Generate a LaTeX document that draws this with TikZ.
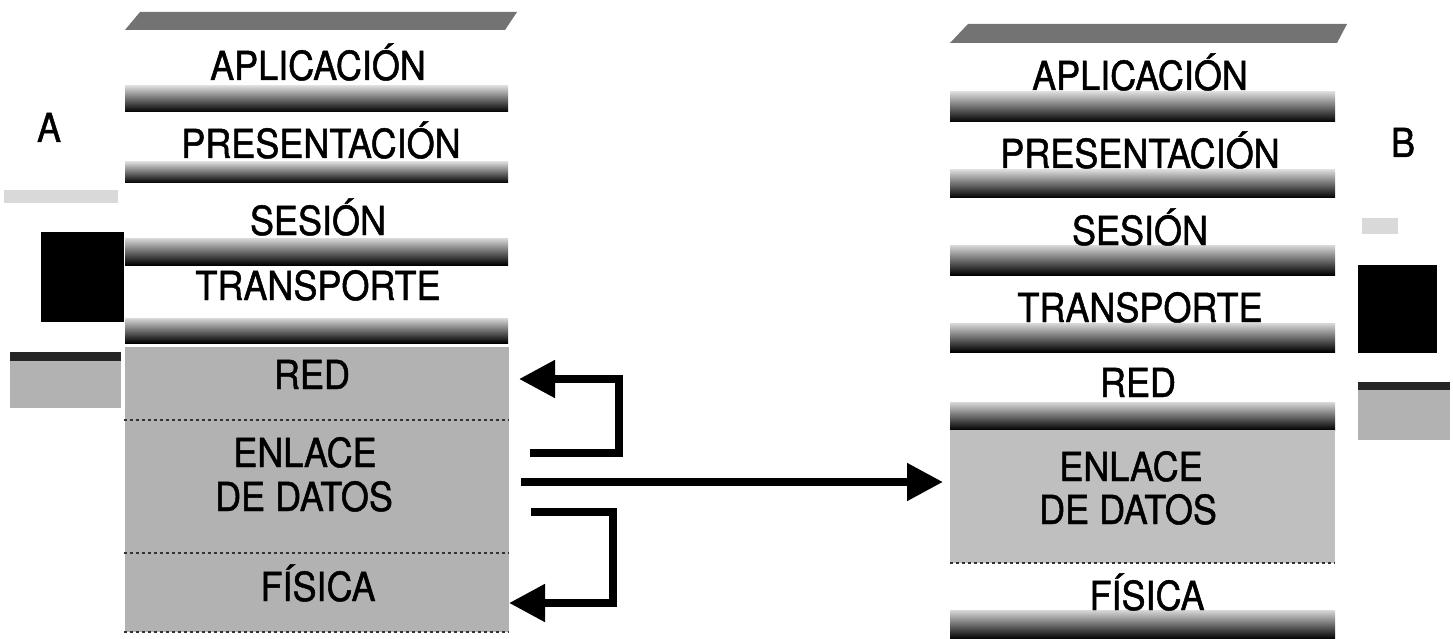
\documentclass[tikz,border=0pt]{standalone}
\usepackage{fontspec}
\setmainfont{TeX Gyre Heros}[FakeStretch=0.9, FakeBold=1.2]
\usetikzlibrary{positioning,arrows.meta}

\begin{document}
\begin{tikzpicture}[x=1pt,y=-1pt,
  lbl/.style={anchor=base, inner sep=0pt, font=\fontsize{40}{42}\selectfont},
  bar/.style={top color=black!15, bottom color=black},
  lid/.style={fill=black!55},
  zone/.style={fill=black!30, inner sep=0pt, minimum width=384pt},
  sep/.style={black!80, dashed, line width=1.5pt},
  arr/.style={-{Triangle[length=36pt,width=36pt]}, line width=8pt}]
\useasboundingbox (0,0) rectangle (1453,639);

% pila A
\fill[lid] (125,30) -- (140,12) -- (517,12) -- (505,30) -- cycle;
\foreach \t/\b in {86/112, 162/183, 238/265, 318/343}
  \shade[bar] (125,\t) rectangle (508,\b);
\node[zone, minimum height=73pt] (lzred) at (316.5,383.5) {};
\node[zone, minimum height=133pt] (lzenl) at (316.5,486.5) {};
\node[zone, minimum height=79pt] (lzfis) at (316.5,592.5) {};
\draw[sep] (lzenl.north west) -- (lzenl.north east);
\draw[sep] (lzfis.north west) -- (lzfis.north east);
\draw[sep] (lzfis.south west) -- (lzfis.south east);

\node[lbl] (lapl) at (318,80) {APLICACIÓN};
\node[lbl] (lpres) at (321,158) {PRESENTACIÓN};
\node[lbl] (lses) at (318,235) {SESIÓN};
\node[lbl] (ltrans) at (318,300) {TRANSPORTE};
\node[lbl] (lred) at (312,389) {RED};
\node[lbl] (lenl) at (305,467) {ENLACE};
\node[lbl] (ldat) at (304,511) {DE DATOS};
\node[lbl] (lfis) at (318,601) {FÍSICA};
\node[lbl] (la) at (49,142) {A};

% equipo A
\fill[black!15] (4,190) rectangle (118,203);
\fill (41,232) rectangle (124,322);
\fill[black!30] (10,352) rectangle (121,408);
\fill[black!85] (10,352) rectangle (121,361);

% pila B
\fill[lid] (950,43) -- (968,24) -- (1347,24) -- (1337,43) -- cycle;
\foreach \t/\b in {92/122, 170/198, 245/275, 323/352, 402/430, 610/639}
  \shade[bar] (950,\t) rectangle (1335,\b);
\node[zone, fill=black!25, minimum width=385pt, minimum height=133pt] (rzenl) at (1142.5,496.5) {};
\draw[sep] (rzenl.south west) -- (rzenl.south east);

\node[lbl] (rapl) at (1140,90) {APLICACIÓN};
\node[lbl] (rpres) at (1140,168) {PRESENTACIÓN};
\node[lbl] (rses) at (1140,245) {SESIÓN};
\node[lbl] (rtrans) at (1140,322) {TRANSPORTE};
\node[lbl] (rred) at (1138,397) {RED};
\node[lbl] (renl) at (1131,481) {ENLACE};
\node[lbl] (rdat) at (1128,524) {DE DATOS};
\node[lbl] (rfis) at (1147,610) {FÍSICA};
\node[lbl] (lb) at (1403,157) {B};

% equipo B
\fill[black!15] (1362,218) rectangle (1398,234);
\fill (1358,265) rectangle (1437,353);
\fill[black!30] (1358,382) rectangle (1450,440);
\fill[black!85] (1358,382) rectangle (1450,390);

% flechas
\coordinate (upA) at (530,453);
\coordinate (upB) at (619,453);
\coordinate (redin) at (519,379);
\coordinate (midA) at (521,482);
\coordinate (renlin) at (943,482);
\coordinate (dnA) at (531,512);
\coordinate (dnB) at (613,512);
\coordinate (fisin) at (509,603);
\draw[arr] (upA) -- (upB) |- (redin);
\draw[arr] (midA) -- (renlin);
\draw[arr] (dnA) -- (dnB) |- (fisin);
\end{tikzpicture}
\end{document}
